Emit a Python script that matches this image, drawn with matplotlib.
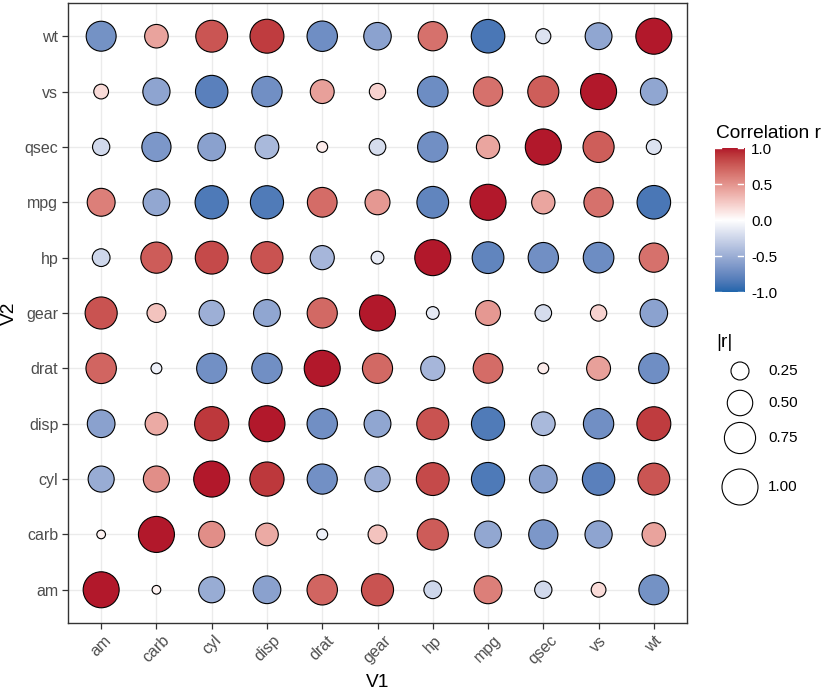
import numpy as np
import matplotlib
matplotlib.use("Agg")
import matplotlib.pyplot as plt
from matplotlib.colors import ListedColormap

plt.rcParams['font.family'] = ['Liberation Sans', 'DejaVu Sans']

# ---------------- data ----------------
variables = ["am", "carb", "cyl", "disp", "drat", "gear", "hp", "mpg", "qsec", "vs", "wt"]

r_am   = [1.000, 0.058, -0.523, -0.591, 0.713, 0.794, -0.243, 0.600, -0.230, 0.168, -0.692]
r_carb = [0.058, 1.000, 0.527, 0.395, -0.091, 0.274, 0.750, -0.551, -0.656, -0.570, 0.428]
r_cyl  = [-0.523, 0.527, 1.000, 0.902, -0.700, -0.493, 0.832, -0.852, -0.591, -0.811, 0.782]
r_disp = [-0.591, 0.395, 0.902, 1.000, -0.710, -0.556, 0.791, -0.848, -0.434, -0.710, 0.888]
r_drat = [0.713, -0.091, -0.700, -0.710, 1.000, 0.700, -0.449, 0.681, 0.091, 0.440, -0.712]
r_gear = [0.794, 0.274, -0.493, -0.556, 0.700, 1.000, -0.126, 0.480, -0.213, 0.206, -0.583]
r_hp   = [-0.243, 0.750, 0.832, 0.791, -0.449, -0.126, 1.000, -0.776, -0.708, -0.723, 0.659]
r_mpg  = [0.600, -0.551, -0.852, -0.848, 0.681, 0.480, -0.776, 1.000, 0.419, 0.664, -0.868]
r_qsec = [-0.230, -0.656, -0.591, -0.434, 0.091, -0.213, -0.708, 0.419, 1.000, 0.745, -0.175]
r_vs   = [0.168, -0.570, -0.811, -0.710, 0.440, 0.206, -0.723, 0.664, 0.745, 1.000, -0.555]
r_wt   = [-0.692, 0.428, 0.782, 0.888, -0.712, -0.583, 0.659, -0.868, -0.175, -0.555, 1.000]

corr_rows = [r_am, r_carb, r_cyl, r_disp, r_drat, r_gear, r_hp, r_mpg, r_qsec, r_vs, r_wt]

colorbar_ticks = [-1.0, -0.5, 0.0, 0.5, 1.0]
size_breaks = [0.25, 0.50, 0.75, 1.00]

# ---------------- colour map (Lab interpolation, like ggplot gradient2) ----------------
def hex_to_rgb(h):
    h = h.lstrip('#')
    return np.array([int(h[i:i + 2], 16) / 255 for i in (0, 2, 4)])

M = np.array([[0.4124564, 0.3575761, 0.1804375],
              [0.2126729, 0.7151522, 0.0721750],
              [0.0193339, 0.1191920, 0.9503041]])
WHITE = np.array([0.95047, 1.0, 1.08883])

def rgb_to_lab(c):
    lin = np.where(c <= 0.04045, c / 12.92, ((c + 0.055) / 1.055) ** 2.4)
    xyz = M @ lin / WHITE
    d = 6 / 29
    f = np.where(xyz > d ** 3, np.cbrt(xyz), xyz / (3 * d * d) + 4 / 29)
    return np.array([116 * f[1] - 16, 500 * (f[0] - f[1]), 200 * (f[1] - f[2])])

def lab_to_rgb(lab):
    L, a, b = lab
    fy = (L + 16) / 116
    fx = fy + a / 500
    fz = fy - b / 200
    d = 6 / 29
    f = np.array([fx, fy, fz])
    xyz = np.where(f > d, f ** 3, 3 * d * d * (f - 4 / 29)) * WHITE
    lin = np.linalg.solve(M, xyz)
    lin = np.clip(lin, 0, 1)
    c = np.where(lin <= 0.0031308, 12.92 * lin, 1.055 * lin ** (1 / 2.4) - 0.055)
    return np.clip(c, 0, 1)

low, mid, high = rgb_to_lab(hex_to_rgb("#2166AC")), rgb_to_lab(hex_to_rgb("#FFFFFF")), rgb_to_lab(hex_to_rgb("#B2182B"))
cols = []
for t in np.linspace(-1, 1, 256):
    if t < 0:
        lab = mid + (low - mid) * (-t)
    else:
        lab = mid + (high - mid) * t
    cols.append(lab_to_rgb(lab))
cmap = ListedColormap(cols)

# ---------------- figure ----------------
W, H = 826, 697
fig = plt.figure(figsize=(W / 100, H / 100), dpi=100)

def px_axes(l, t, r, b):
    return fig.add_axes([l / W, 1 - b / H, (r - l) / W, (b - t) / H])

def diam_to_s(d_px):
    return (np.asarray(d_px) * 0.72) ** 2

n = len(variables)
corr = np.array(corr_rows)
X, Y = np.meshgrid(np.arange(n), np.arange(n))
vals = corr[Y, X]
sizes = diam_to_s(36 * np.sqrt(np.abs(vals)))

ax = px_axes(68, 3, 687, 623)
ax.scatter(X.ravel(), Y.ravel(), s=sizes.ravel(), c=vals.ravel(), cmap=cmap, vmin=-1, vmax=1,
           edgecolors='black', linewidths=0.8, zorder=3)
ax.set_xlim(-0.6, n - 0.4)
ax.set_ylim(-0.6, n - 0.4)
ax.set_xticks(range(n))
ax.set_yticks(range(n))
ax.set_xticklabels(variables, rotation=45, ha='center', va='top')
ax.set_yticklabels(variables)
ax.tick_params(axis='both', colors='#333333', labelcolor='#4D4D4D', labelsize=11.5,
               length=4, width=0.9, pad=3)
ax.grid(True, color='#EBEBEB', lw=1)
ax.set_axisbelow(True)
for sp in ax.spines.values():
    sp.set_color('#333333')
    sp.set_linewidth(1.0)
ax.set_xlabel('V1', fontsize=13.75, color='black', labelpad=5)
ax.set_ylabel('V2', fontsize=13.75, color='black', labelpad=5)

# colour bar
cax = px_axes(715, 148, 744, 292)
grad = np.linspace(-1, 1, 300).reshape(-1, 1)
cax.imshow(grad, aspect='auto', cmap=cmap, origin='lower', extent=[0, 1, -1, 1], vmin=-1, vmax=1)
cax.set_xlim(0, 1)
cax.set_ylim(-1, 1)
for v in colorbar_ticks:
    cax.plot([0, 0.2], [v, v], color='white', lw=1)
    cax.plot([0.8, 1], [v, v], color='white', lw=1)
cax.set_xticks([])
cax.yaxis.tick_right()
cax.set_yticks(colorbar_ticks)
cax.set_yticklabels([f"{v:.1f}" for v in colorbar_ticks])
cax.tick_params(axis='y', length=0, labelsize=11, pad=5, labelcolor='black')
for sp in cax.spines.values():
    sp.set_visible(False)

# overlay for legend texts and size keys
ov = fig.add_axes([0, 0, 1, 1])
ov.set_xlim(0, W)
ov.set_ylim(H, 0)
ov.axis('off')
ov.text(716, 138, 'Correlation r', fontsize=13.75, ha='left', va='baseline')
ov.text(716, 347, '|r|', fontsize=13.75, ha='left', va='baseline')
key_y = [371, 403, 438, 487]
ov.scatter([740] * len(size_breaks), key_y, s=diam_to_s(36 * np.sqrt(size_breaks)),
           facecolors='white', edgecolors='black', linewidths=0.8)
for v, yk in zip(size_breaks, key_y):
    ov.text(768, yk, f"{v:.2f}", fontsize=11, ha='left', va='center')

fig.savefig('out.png', dpi=100)
